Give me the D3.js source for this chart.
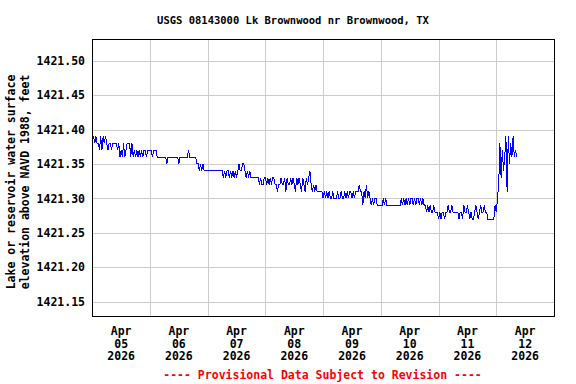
<!DOCTYPE html>
<html><head><meta charset="utf-8">
<script src="https://cdn.jsdelivr.net/npm/d3@7/dist/d3.min.js"></script>
<style>
body{margin:0;background:#fff}
svg{display:block}
text{font-family:"DejaVu Sans Mono","Liberation Mono",monospace;font-weight:bold}
</style>
</head><body>
<svg id="chart" width="576" height="384"></svg>
<script>
// ---------- data ----------
const chartTitle = "USGS 08143000 Lk Brownwood nr Brownwood, TX";
const yTitleLines = ["Lake or reservoir water surface", "elevation above NAVD 1988, feet"];
const footerText = "---- Provisional Data Subject to Revision ----";
const yTickValues = [1421.15, 1421.20, 1421.25, 1421.30, 1421.35, 1421.40, 1421.45, 1421.50];
const yDomain = [1421.1292, 1421.5315];
const xMonthLabel = "Apr";
const xYearLabel = "2026";
const xDayLabels = ["05", "06", "07", "08", "09", "10", "11", "12"];
const intervalMinutes = 30;

// gage height readings, every 30 minutes from midnight of each day (feet)
const apr05 = [1421.38,1421.39,1421.38,1421.39,1421.38,1421.38,1421.37,1421.39,1421.37,1421.39,1421.38,1421.39,
  1421.38,1421.37,1421.38,1421.38,1421.37,1421.38,1421.38,1421.38,
  1421.38,1421.37,1421.38,1421.36,1421.37,1421.36,1421.38,1421.36,1421.37,1421.38,
  1421.38,1421.38,1421.36,1421.38,1421.36,
  1421.37,1421.36,1421.37,1421.36,1421.37,1421.36,1421.37,1421.36,1421.37,1421.37,1421.36,1421.37,1421.37];
const apr06 = [1421.37,1421.37,1421.36,1421.37,1421.37,1421.37,
  1421.36,1421.36,1421.36,1421.36,1421.36,1421.36,1421.36,1421.36,1421.35,
  1421.36,1421.36,1421.36,1421.36,1421.36,1421.36,1421.36,1421.36,1421.36,1421.35,
  1421.36,1421.36,1421.36,1421.36,1421.36,1421.36,1421.36,1421.37,
  1421.36,1421.36,1421.36,1421.36,1421.36,1421.36,
  1421.35,1421.35,1421.34,1421.35,1421.34,1421.35,1421.34,1421.34,1421.34];
const apr07 = [1421.34,1421.34,1421.34,1421.34,1421.34,1421.34,1421.34,1421.34,1421.34,1421.34,1421.34,1421.34,1421.34,
  1421.33,1421.34,1421.33,1421.34,1421.34,1421.33,1421.34,1421.33,1421.34,1421.33,1421.34,1421.33,1421.34,
  1421.35,1421.34,1421.34,1421.35,1421.35,1421.34,
  1421.33,1421.34,1421.33,1421.34,1421.33,
  1421.33,1421.33,1421.33,1421.33,1421.33,1421.33,
  1421.32,1421.33,1421.32,1421.32,1421.33];
const apr08 = [1421.33,1421.32,1421.33,1421.32,1421.33,1421.32,1421.33,1421.33,1421.32,1421.32,
  1421.31,1421.32,1421.32,1421.33,1421.32,1421.32,1421.33,1421.31,1421.33,1421.32,
  1421.32,1421.33,1421.32,1421.33,1421.32,1421.31,1421.33,1421.32,1421.33,1421.32,
  1421.31,1421.33,1421.32,1421.31,1421.33,1421.32,1421.33,1421.34,1421.32,1421.31,
  1421.32,1421.31,1421.32,1421.31,1421.31,1421.31,1421.31,1421.31];
const apr09 = [1421.30,1421.31,1421.30,1421.31,1421.30,1421.31,1421.30,1421.30,1421.31,1421.30,
  1421.30,1421.30,1421.31,1421.30,1421.30,1421.31,1421.30,1421.30,1421.31,1421.30,
  1421.31,1421.30,1421.31,1421.31,1421.30,1421.31,1421.30,1421.31,1421.31,1421.31,
  1421.32,1421.31,1421.31,1421.29,1421.31,1421.30,1421.32,1421.30,1421.31,1421.30,
  1421.29,1421.30,1421.29,1421.30,1421.30,1421.29,1421.29,1421.29];
const apr10 = [1421.29,1421.29,1421.30,1421.29,1421.30,1421.29,
  1421.29,1421.29,1421.29,1421.29,1421.29,1421.29,1421.29,1421.29,1421.29,1421.29,1421.29,
  1421.30,
  1421.29,1421.30,1421.29,1421.30,1421.29,1421.30,1421.29,1421.30,1421.30,1421.29,
  1421.30,1421.29,1421.30,1421.30,1421.29,1421.30,1421.29,1421.30,1421.29,
  1421.29,1421.28,1421.29,
  1421.28,1421.29,1421.28,1421.28,1421.29,1421.28,1421.28,1421.28];
const apr11 = [1421.27,1421.28,1421.27,1421.28,1421.28,1421.27,1421.28,1421.28,1421.29,1421.28,
  1421.28,1421.29,1421.28,1421.28,1421.28,1421.28,1421.28,1421.27,1421.28,1421.28,
  1421.27,1421.29,1421.28,1421.28,1421.29,1421.28,1421.27,1421.28,1421.27,1421.27,
  1421.28,1421.29,1421.28,1421.27,1421.28,1421.29,1421.28,1421.28,1421.29,1421.28,
  1421.28,1421.27,1421.27,1421.27,1421.27,1421.27,1421.27,1421.29];
const apr12 = [1421.28,1421.30,1421.32,1421.38,1421.33,1421.37,1421.34,1421.36,1421.39,1421.31,
  1421.39,1421.35,1421.38,1421.36,1421.39,1421.36,1421.37,1421.36];

const dailySeries = [
  {day: 5, values: apr05}, {day: 6, values: apr06}, {day: 7, values: apr07}, {day: 8, values: apr08},
  {day: 9, values: apr09}, {day: 10, values: apr10}, {day: 11, values: apr11}, {day: 12, values: apr12}
];

// ---------- layout ----------
const W = 576, H = 384;
const plot = {left: 92.3, right: 554, top: 39, bottom: 316};

const svg = d3.select("#chart");
svg.append("rect").attr("width", W).attr("height", H).attr("fill", "#fff");

const x = d3.scaleUtc()
  .domain([new Date(Date.UTC(2026, 3, 5)), new Date(Date.UTC(2026, 3, 13))])
  .range([plot.left, plot.right]);
const y = d3.scaleLinear().domain(yDomain).range([plot.bottom, plot.top]);

const points = [];
dailySeries.forEach(s => {
  s.values.forEach((v, i) => {
    points.push({t: new Date(Date.UTC(2026, 3, s.day, 0, i * intervalMinutes)), v});
  });
});

// horizontal grid + y tick labels
const yAxis = d3.axisLeft(y)
  .tickValues(yTickValues)
  .tickSize(-(plot.right - plot.left))
  .tickPadding(7)
  .tickFormat(d3.format(".2f"));
const gy = svg.append("g").attr("transform", `translate(${Math.floor(plot.left)},0)`).call(yAxis);
gy.select(".domain").remove();
gy.selectAll(".tick line").attr("stroke", "#cccccc").attr("shape-rendering", "crispEdges");
gy.selectAll(".tick text").attr("font-size", "11.5px").attr("fill", "#000")
  .attr("font-family", "DejaVu Sans Mono").attr("font-weight", "bold");

// vertical grid at midnights
const midnights = xDayLabels.slice(1).map(d => new Date(Date.UTC(2026, 3, +d)));
const xAxis = d3.axisBottom(x).tickValues(midnights).tickSize(-(plot.bottom - plot.top)).tickFormat("");
const gx = svg.append("g").attr("transform", `translate(0,${plot.bottom})`).call(xAxis);
gx.select(".domain").remove();
gx.selectAll(".tick line").attr("stroke", "#cccccc").attr("shape-rendering", "crispEdges");

// x labels at noon of each day
const noonDates = xDayLabels.map(d => new Date(Date.UTC(2026, 3, +d, 12)));
const xl = svg.append("g").selectAll("text").data(noonDates).join("text")
  .attr("text-anchor", "middle").attr("font-size", "11.5px").attr("fill", "#000");
xl.each(function(d, i) {
  const t = d3.select(this);
  const cx = x(d);
  [xMonthLabel, xDayLabels[i], xYearLabel].forEach((s, k) => {
    t.append("tspan").attr("x", cx).attr("y", 335 + k * 12.7).text(s);
  });
});

// data line
svg.append("path").datum(points)
  .attr("fill", "none").attr("stroke", "#0000ff").attr("stroke-width", 1)
  .attr("shape-rendering", "crispEdges")
  .attr("d", d3.line().x(d => x(d.t)).y(d => y(d.v)));

// plot border
svg.append("rect")
  .attr("x", Math.floor(plot.left) + 0.5).attr("y", plot.top + 0.5)
  .attr("width", Math.round(plot.right - plot.left)).attr("height", plot.bottom - plot.top)
  .attr("fill", "none").attr("stroke", "#000").attr("stroke-width", 1)
  .attr("shape-rendering", "crispEdges");

// title
svg.append("text").attr("x", 293).attr("y", 23.5).attr("text-anchor", "middle")
  .attr("font-size", "10.5px").attr("fill", "#000").text(chartTitle);

// y axis title
const yt = svg.append("text").attr("text-anchor", "middle").attr("font-size", "11.5px").attr("fill", "#000")
  .attr("transform", "translate(0,182) rotate(-90)");
yTitleLines.forEach((s, k) => {
  yt.append("tspan").attr("x", 0).attr("y", 15 + k * 14).text(s);
});

// footer
svg.append("text").attr("x", 322.5).attr("y", 379).attr("text-anchor", "middle")
  .attr("font-size", "11.5px").attr("fill", "#ff0000").text(footerText);
</script>
</body></html>
